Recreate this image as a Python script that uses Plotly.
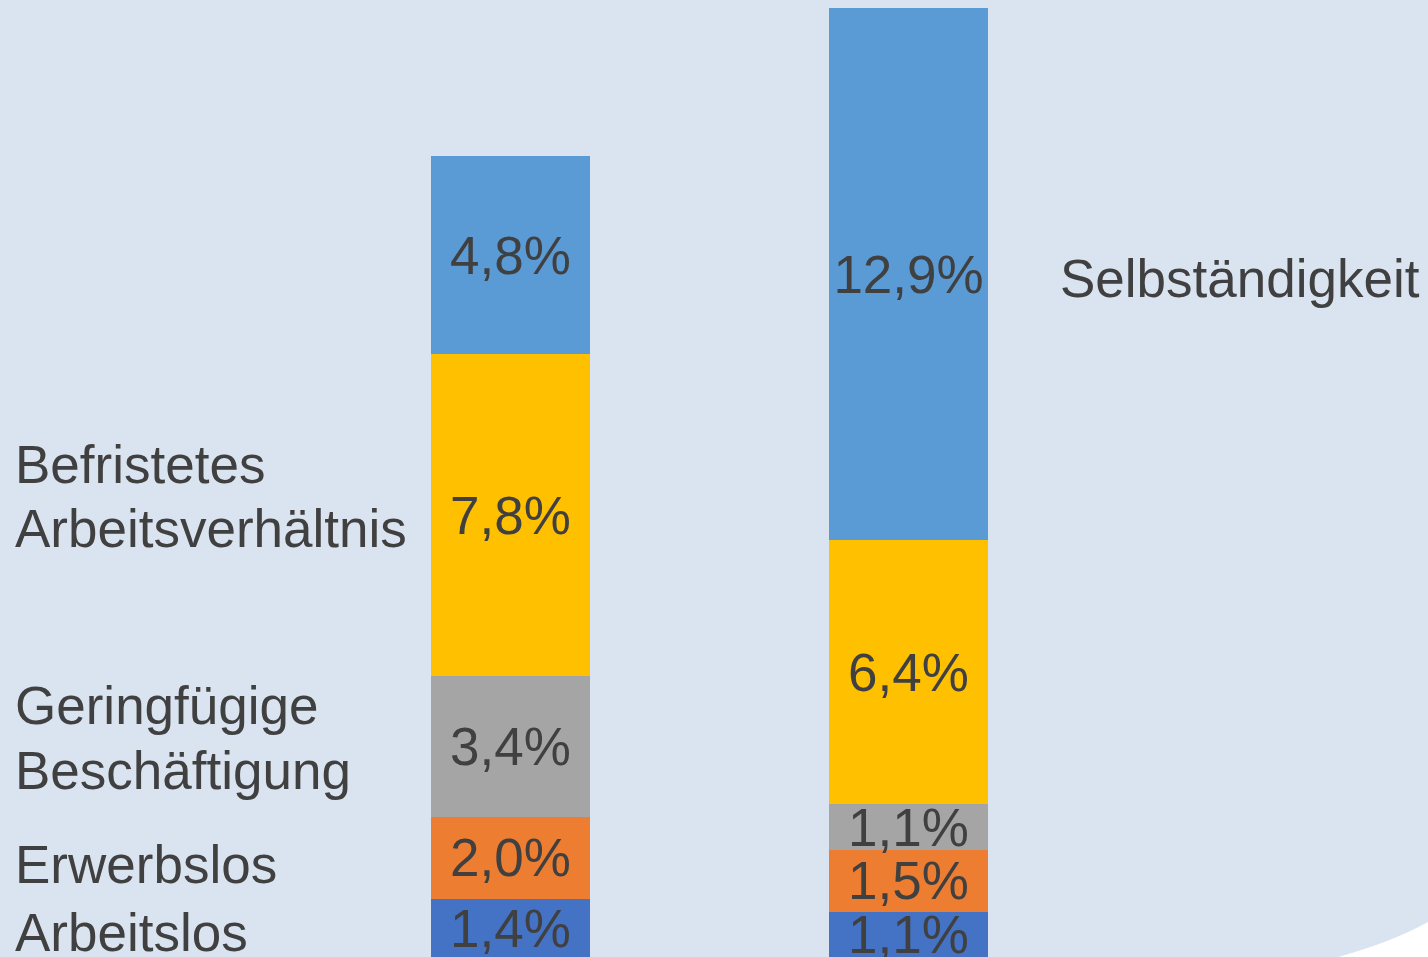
import plotly.graph_objects as go

W, H = 1428, 957

groups = ["Gruppe 1", "Gruppe 2"]
series_names = ["Arbeitslos", "Erwerbslos", "Geringfügige Beschäftigung",
                "Befristetes Arbeitsverhältnis", "Selbständigkeit"]
arbeitslos = [1.4, 1.1]
erwerbslos = [2.0, 1.5]
geringfuegig = [3.4, 1.1]
befristet = [7.8, 6.4]
selbstaendig = [4.8, 12.9]
series_values = [arbeitslos, erwerbslos, geringfuegig, befristet, selbstaendig]
colors = ["#4472C4", "#ED7D31", "#A5A5A5", "#FFC000", "#5B9BD5"]

BG = "#DAE3F0"
TXT = "#404040"
FONT = "Liberation Sans, Arial, sans-serif"
FS = 53

fig = go.Figure()
for name, vals, col in zip(series_names, series_values, colors):
    fig.add_trace(go.Bar(
        x=groups, y=vals, name=name,
        marker=dict(color=col, line=dict(width=0)),
        width=0.4,
        texttemplate="%{y:.1f}%",
        textposition="inside",
        insidetextanchor="middle",
        textangle=0,
        textfont=dict(family=FONT, size=FS, color=TXT),
        hoverinfo="skip",
    ))

def px2paper(px, py):
    return px / W, 1 - py / H

# left labels (one annotation per line), positions in pixels
labels = [
    ("Befristetes", 15, 464),
    ("Arbeitsverhältnis", 15, 528),
    ("Geringfügige", 15, 705),
    ("Beschäftigung", 15, 770),
    ("Erwerbslos", 15, 864),
    ("Arbeitslos", 15, 932),
    ("Selbständigkeit", 1060, 278),
]
annotations = []
for txt, px, py in labels:
    x, y = px2paper(px, py)
    annotations.append(dict(
        text=txt, x=x, y=y, xref="paper", yref="paper",
        xanchor="left", yanchor="middle", showarrow=False,
        font=dict(family=FONT, size=FS, color=TXT),
        xshift=-2,
    ))

# white curved corner at bottom right
p0 = px2paper(1338, 957)
pc = px2paper(1392, 942)
p1 = px2paper(1428, 922)
p2 = px2paper(1428, 957)
path = (f"M {p0[0]},{p0[1]} Q {pc[0]},{pc[1]} {p1[0]},{p1[1]} "
        f"L {p2[0]},{p2[1]} Z")

fig.update_layout(
    width=W, height=H,
    margin=dict(l=0, r=0, t=0, b=0),
    paper_bgcolor=BG, plot_bgcolor="rgba(0,0,0,0)",
    barmode="stack",
    showlegend=False,
    separators=",.",
    uniformtext=dict(minsize=FS, mode="show"),
    xaxis=dict(range=[-1.2827, 2.3052], visible=False, fixedrange=True),
    yaxis=dict(range=[0, 23.19], visible=False, fixedrange=True),
    annotations=annotations,
    shapes=[dict(type="path", path=path, xref="paper", yref="paper",
                 fillcolor="white", line=dict(width=0), layer="above")],
)

fig.write_html(
    "out.html",
    config={"displayModeBar": False},
    post_script="document.body.style.margin='0';"
                "document.body.style.overflow='hidden';",
)
